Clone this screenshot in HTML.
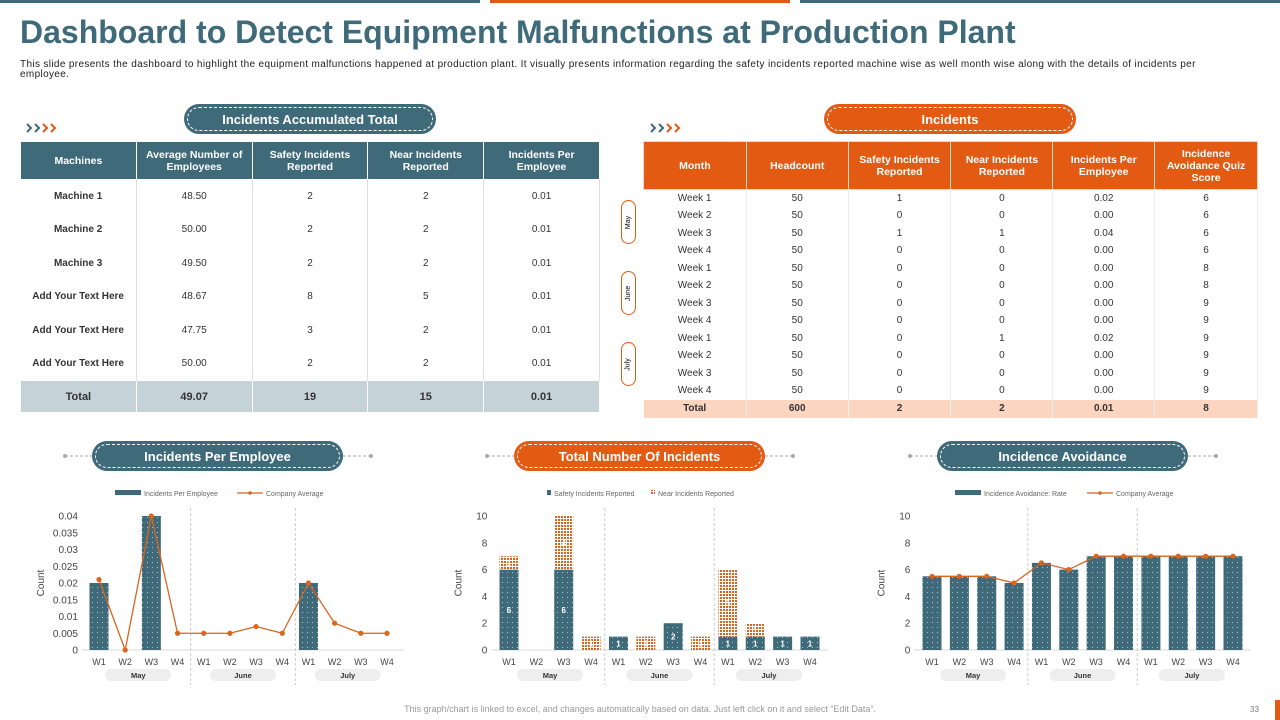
<!DOCTYPE html>
<html><head><meta charset="utf-8">
<style>
*{margin:0;padding:0;box-sizing:border-box}
body{width:1280px;height:720px;position:relative;background:#fff;font-family:"Liberation Sans",sans-serif;overflow:hidden}
.a{position:absolute}
.pill{position:absolute;height:30px;border-radius:15px;color:#fff;font-weight:bold;font-size:13px;display:flex;align-items:center;justify-content:center}
.pill::after{content:"";position:absolute;left:3px;right:3px;top:3px;bottom:3px;border:1px dashed #fff;border-radius:12px}
.teal{background:#3f6a7a}.orange{background:#e35a12}
table{border-collapse:collapse;position:absolute;font-size:10px;color:#333}
td,th{text-align:center;padding:0}
#t1 th{background:#3f6a7a;color:#fff;font-size:10.5px;border:1px solid #fff;height:38px;font-weight:bold}
#t1 td{border-right:1px solid #e0e0e0;height:33.5px}
#t1 td:first-child{font-weight:bold}
#t1 tr.tot td{background:#c5d3d9;font-weight:bold;height:32px;border:1px solid #fff;font-size:11px}
#t2 th{background:#e35a12;color:#fff;font-size:10.5px;border:1px solid #fbd5c0;height:48px;font-weight:bold}
#t2 td{height:17.5px;border-right:1px solid #eee;font-size:10px}
#t2 tr.tot td{background:#fbd5c0;font-weight:bold;height:18px}
.vp{position:absolute;left:621px;width:15px;border:1px solid #e35a12;border-radius:8px;font-size:7px;display:flex;align-items:center;justify-content:center}
.vp span{transform:rotate(-90deg);white-space:nowrap}
</style></head><body>
<div class="a" style="left:0;top:0;width:480px;height:3px;background:#3f6a7a"></div>
<div class="a" style="left:490px;top:0;width:300px;height:3px;background:#e35a12"></div>
<div class="a" style="left:800px;top:0;width:480px;height:3px;background:#3f6a7a"></div>
<div class="a" style="left:20px;top:14px;font-size:32px;font-weight:bold;color:#3f6a7a;white-space:nowrap">Dashboard to Detect Equipment Malfunctions at Production Plant</div>
<div class="a" style="left:20px;top:60px;width:1225px;font-size:10px;letter-spacing:0.35px;line-height:10px;color:#222">This slide presents the dashboard to highlight the equipment malfunctions happened at production plant. It visually presents information regarding the safety incidents reported machine wise as well month wise along with the details of incidents per employee.</div>

<svg class="a" style="left:26px;top:122px" width="36" height="12">
<path d="M1 2 L5 6 L1 10 M9 2 L13 6 L9 10" stroke="#3f6a7a" stroke-width="2" fill="none"/>
<path d="M17 2 L21 6 L17 10 M25 2 L29 6 L25 10" stroke="#e35a12" stroke-width="2" fill="none"/></svg>
<svg class="a" style="left:650px;top:122px" width="36" height="12">
<path d="M1 2 L5 6 L1 10 M9 2 L13 6 L9 10" stroke="#3f6a7a" stroke-width="2" fill="none"/>
<path d="M17 2 L21 6 L17 10 M25 2 L29 6 L25 10" stroke="#e35a12" stroke-width="2" fill="none"/></svg>
<div class="pill teal" style="left:184px;top:104px;width:252px">Incidents Accumulated Total</div>
<div class="pill orange" style="left:824px;top:104px;width:252px">Incidents</div>

<table id="t1" style="left:20px;top:141px;width:580px">
<tr><th style="width:116px">Machines</th><th style="width:116px">Average Number of<br>Employees</th><th style="width:116px">Safety Incidents<br>Reported</th><th style="width:116px">Near Incidents<br>Reported</th><th style="width:116px">Incidents Per<br>Employee</th></tr>
<tr><td>Machine 1</td><td>48.50</td><td>2</td><td>2</td><td>0.01</td></tr>
<tr><td>Machine 2</td><td>50.00</td><td>2</td><td>2</td><td>0.01</td></tr>
<tr><td>Machine 3</td><td>49.50</td><td>2</td><td>2</td><td>0.01</td></tr>
<tr><td>Add Your Text Here</td><td>48.67</td><td>8</td><td>5</td><td>0.01</td></tr>
<tr><td>Add Your Text Here</td><td>47.75</td><td>3</td><td>2</td><td>0.01</td></tr>
<tr><td>Add Your Text Here</td><td>50.00</td><td>2</td><td>2</td><td>0.01</td></tr>
<tr class="tot"><td>Total</td><td>49.07</td><td>19</td><td>15</td><td>0.01</td></tr>
</table>

<table id="t2" style="left:643px;top:141px;width:615px">
<tr><th style="width:103px">Month</th><th style="width:102px">Headcount</th><th style="width:103px">Safety Incidents<br>Reported</th><th style="width:102px">Near Incidents<br>Reported</th><th style="width:102px">Incidents Per<br>Employee</th><th style="width:103px">Incidence<br>Avoidance Quiz<br>Score</th></tr>
<tr><td>Week 1</td><td>50</td><td>1</td><td>0</td><td>0.02</td><td>6</td></tr>
<tr><td>Week 2</td><td>50</td><td>0</td><td>0</td><td>0.00</td><td>6</td></tr>
<tr><td>Week 3</td><td>50</td><td>1</td><td>1</td><td>0.04</td><td>6</td></tr>
<tr><td>Week 4</td><td>50</td><td>0</td><td>0</td><td>0.00</td><td>6</td></tr>
<tr><td>Week 1</td><td>50</td><td>0</td><td>0</td><td>0.00</td><td>8</td></tr>
<tr><td>Week 2</td><td>50</td><td>0</td><td>0</td><td>0.00</td><td>8</td></tr>
<tr><td>Week 3</td><td>50</td><td>0</td><td>0</td><td>0.00</td><td>9</td></tr>
<tr><td>Week 4</td><td>50</td><td>0</td><td>0</td><td>0.00</td><td>9</td></tr>
<tr><td>Week 1</td><td>50</td><td>0</td><td>1</td><td>0.02</td><td>9</td></tr>
<tr><td>Week 2</td><td>50</td><td>0</td><td>0</td><td>0.00</td><td>9</td></tr>
<tr><td>Week 3</td><td>50</td><td>0</td><td>0</td><td>0.00</td><td>9</td></tr>
<tr><td>Week 4</td><td>50</td><td>0</td><td>0</td><td>0.00</td><td>9</td></tr>
<tr class="tot"><td>Total</td><td>600</td><td>2</td><td>2</td><td>0.01</td><td>8</td></tr>
</table>
<div class="vp" style="top:200px;height:44px"><span>May</span></div>
<div class="vp" style="top:271px;height:44px"><span>June</span></div>
<div class="vp" style="top:342px;height:44px"><span>July</span></div>

<div class="pill teal" style="left:92px;top:441px;width:251px">Incidents Per Employee</div>
<div class="pill orange" style="left:514px;top:441px;width:251px">Total Number Of Incidents</div>
<div class="pill teal" style="left:937px;top:441px;width:251px">Incidence Avoidance</div>

<svg id="ch" class="a" style="left:0;top:0" width="1280" height="720">
<defs>
<pattern id="pt" width="5" height="5" patternUnits="userSpaceOnUse"><rect width="5" height="5" fill="#3f6a7a"/><circle cx="2.5" cy="2.5" r="0.5" fill="#cfdde2"/></pattern>
<pattern id="po" width="3" height="3" patternUnits="userSpaceOnUse"><rect width="3" height="3" fill="#fff"/><rect width="2" height="2" fill="#d9651e"/></pattern>
</defs>
</svg>

<div class="a" style="left:0;width:1280px;top:704px;text-align:center;font-size:9px;color:#999">This graph/chart is linked to excel, and changes automatically based on data. Just left click on it and select “Edit Data”.</div>
<div class="a" style="left:1250px;top:705px;font-size:8px;color:#777">33</div>
<div class="a" style="left:1275px;top:700px;width:5px;height:20px;background:#e35a12"></div>

<script>
const weeks=["W1","W2","W3","W4","W1","W2","W3","W4","W1","W2","W3","W4"];
const months=["May","June","July"];
const ipeBars=[0.02,0,0.04,0,0,0,0,0,0.02,0,0,0];
const ipeAvg=[0.021,0,0.040,0.005,0.005,0.005,0.007,0.005,0.020,0.008,0.005,0.005];
const ipeTicks=[0,0.005,0.01,0.015,0.02,0.025,0.03,0.035,0.04];
const safety=[6,0,6,0,1,0,2,0,1,1,1,1];
const near=[1,0,4,1,0,1,0,1,5,1,0,0];
const cntTicks=[0,2,4,6,8,10];
const avoidRate=[5.5,5.5,5.5,5,6.5,6,7,7,7,7,7,7];
const avoidAvg=[5.5,5.5,5.5,5,6.5,6,7,7,7,7,7,7];

const svg=document.getElementById('ch');
const NS="http://www.w3.org/2000/svg";
function mk(t,a,txt){const e=document.createElementNS(NS,t);for(const k in a)e.setAttribute(k,a[k]);if(txt!==undefined)e.textContent=txt;svg.appendChild(e);return e;}

function chart(o){
  const y0=650,y1=516;
  const ys=v=>y0-(v/o.max)*(y0-y1);
  const xs=i=>o.x0+i*(o.x1-o.x0)/11;
  const step=(o.x1-o.x0)/11;
  let l=mk('line',{x1:o.px-27,y1:456,x2:o.px,y2:456,stroke:'#aaa','stroke-dasharray':'3,2'});
  
  l=mk('line',{x1:o.px+251,y1:456,x2:o.px+279,y2:456,stroke:'#aaa','stroke-dasharray':'3,2'});
  
  mk('circle',{cx:o.px-27,cy:456,r:2,fill:'#aaa'});mk('circle',{cx:o.px+279,cy:456,r:2,fill:'#aaa'});
  let b=mk('line',{x1:o.x0-step/2-4,y1:y0,x2:o.x1+step/2+4,y2:y0,stroke:'#d9d9d9'});
  
  [3.5,7.5].forEach(s=>{const e=mk('line',{x1:xs(s),y1:508,x2:xs(s),y2:685,stroke:'#ccc','stroke-dasharray':'3,2'});
    });
  o.ticks.forEach(t=>{const e=mk('text',{x:o.x0-step/2-8,y:ys(t)+3.5,'text-anchor':'end','font-size':'10',fill:'#444'},String(t));
    });
  const yt=mk('text',{x:0,y:0,'font-size':'10',fill:'#444','text-anchor':'middle',transform:`translate(${o.x0-step/2-o.ytOff},583) rotate(-90)`},'Count');
  
  weeks.forEach((w,i)=>{const e=mk('text',{x:xs(i),y:665,'text-anchor':'middle','font-size':'9',fill:'#444'},w);
    });
  months.forEach((m,k)=>{const c=xs(k*4+1.5);
    const r=mk('rect',{x:c-33,y:669,width:66,height:12,rx:6,fill:'#eee'});
    
    const e=mk('text',{x:c,y:678,'text-anchor':'middle','font-size':'7.5','font-weight':'bold',fill:'#333'},m);
    });
  const bw=19;
  if(o.stack){
    o.bars.forEach((v,i)=>{
      if(v>0){const r=mk('rect',{x:xs(i)-bw/2,y:ys(v),width:bw,height:y0-ys(v),fill:'url(#pt)'});
        
        mk('text',{x:xs(i),y:(ys(v)+y0)/2+3,'text-anchor':'middle','font-size':'8','font-weight':'bold',fill:'#fff'},String(v));}
      const n=o.stack[i];
      if(n>0){const r=mk('rect',{x:xs(i)-bw/2,y:ys(v+n),width:bw,height:ys(v)-ys(v+n),fill:'url(#po)'});
        
        mk('text',{x:xs(i),y:(ys(v)+ys(v+n))/2+3,'text-anchor':'middle','font-size':'8','font-weight':'bold',fill:'#fff'},String(n));}
    });
  } else {
    o.bars.forEach((v,i)=>{if(v>0){const r=mk('rect',{x:xs(i)-bw/2,y:ys(v),width:bw,height:y0-ys(v),fill:'url(#pt)'});
      }});
    const p=mk('polyline',{points:o.line.map((v,i)=>xs(i)+','+ys(v)).join(' '),fill:'none',stroke:'#d9651e','stroke-width':'1.3'});
    
    o.line.forEach((v,i)=>{const c=mk('circle',{cx:xs(i),cy:ys(v),r:2.6,fill:'#d9651e'});
      });
  }
  o.legend.forEach(it=>{
    if(it.type==='bar'){mk('rect',{x:it.x,y:490,width:it.w,height:5,fill:'#3f6a7a'});}
    else if(it.type==='obar'){mk('rect',{x:it.x,y:490,width:it.w,height:5,fill:'url(#po)'});}
    else {mk('line',{x1:it.x,y1:493,x2:it.x+it.w,y2:493,stroke:'#d9651e','stroke-width':1.2});mk('circle',{cx:it.x+it.w/2,cy:493,r:1.8,fill:'#d9651e'});}
    const e=mk('text',{x:it.x+it.w+3,y:496,'font-size':'7',fill:'#666'},it.label);
    
  });
}
chart({x0:99,x1:387,max:0.04,ticks:ipeTicks,bars:ipeBars,line:ipeAvg,px:92,ytOff:42,
  legend:[{type:'bar',x:115,w:26,label:'Incidents Per Employee'},{type:'line',x:237,w:26,label:'Company Average'}]});
chart({x0:509,x1:810,max:10,ticks:cntTicks,bars:safety,stack:near,px:514,ytOff:34,
  legend:[{type:'bar',x:547,w:4,label:'Safety Incidents Reported'},{type:'obar',x:651,w:4,label:'Near Incidents Reported'}]});
chart({x0:932,x1:1233,max:10,ticks:cntTicks,bars:avoidRate,line:avoidAvg,px:937,ytOff:34,
  legend:[{type:'bar',x:955,w:26,label:'Incidence Avoidance: Rate'},{type:'line',x:1087,w:26,label:'Company Average'}]});
</script>
</body></html>
